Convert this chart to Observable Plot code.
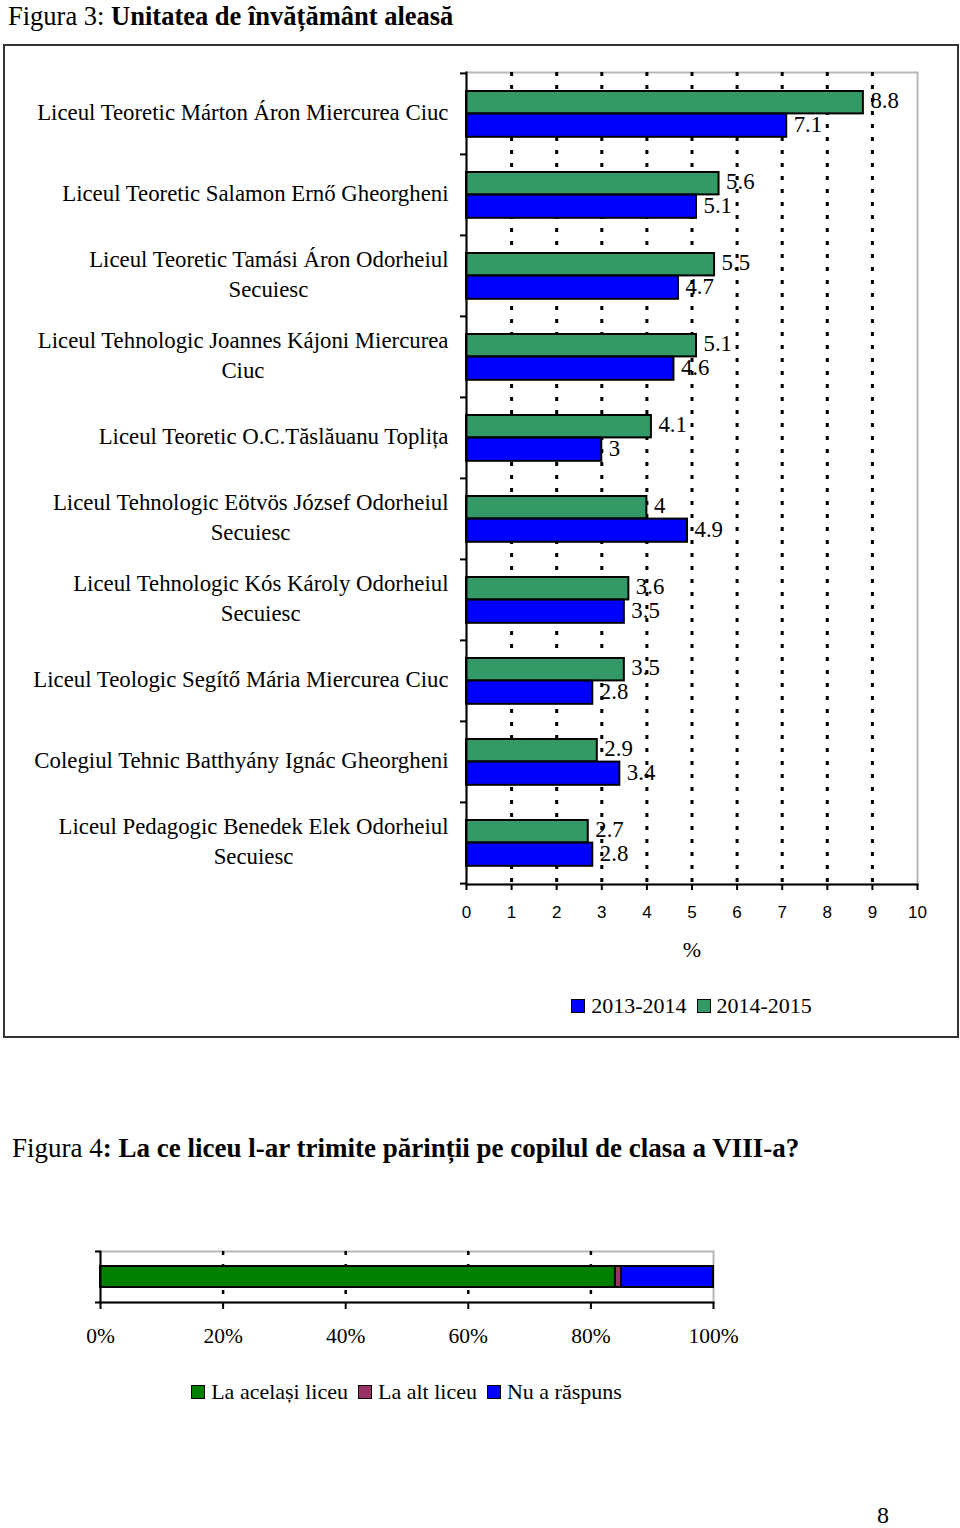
<!DOCTYPE html>
<html>
<head>
<meta charset="utf-8">
<script src="https://cdn.jsdelivr.net/npm/d3@7"></script>
<script src="https://cdn.jsdelivr.net/npm/@observablehq/plot@0.6"></script>
<style>
  body { margin: 0; background: #fff; }
  #page { position: relative; width: 960px; height: 1528px; background: #fff; font-family: 'Liberation Serif', 'Times New Roman', serif; color: #000; overflow: hidden; }
  .abs { position: absolute; }
  .legend { display: flex; justify-content: center; align-items: center; height: 26px; font-size: 22px; white-space: nowrap; }
  .legend .item { display: flex; align-items: center; margin: 0 5px; }
  .legend .sw { width: 14px; height: 14px; box-sizing: border-box; border: 1.5px solid #000; margin-right: 6px; }
</style>
</head>
<body>
<div id="page">
  <div class="abs" style="left:8px; top:1px; font-size:26.5px; line-height:30px; white-space:nowrap;">Figura 3: <b>Unitatea de învățământ aleasă</b></div>
  <div class="abs" style="left:3px; top:44px; width:956px; height:994px; box-sizing:border-box; border:2px solid #333;"></div>
  <div id="fig3" class="abs" style="left:0; top:44px;"></div>
  <div id="legend3" class="abs legend" style="left:466px; width:451px; top:993px;"></div>
  <div class="abs" style="left:12px; top:1132px; font-size:27px; line-height:32px; white-space:nowrap;">Figura 4<b>: La ce liceu l-ar trimite părinții pe copilul de clasa a VIII-a?</b></div>
  <div id="fig4" class="abs" style="left:0; top:1200px;"></div>
  <div id="legend4" class="abs legend" style="left:100px; width:613px; top:1379px;"></div>
  <div class="abs" style="left:877px; top:1500px; font-size:24px; line-height:30px;">8</div>
</div>
<script>
// ---------- Figure 3 data ----------
const schools = [
  "Liceul Teoretic Márton Áron Miercurea Ciuc",
  "Liceul Teoretic Salamon Ernő Gheorgheni",
  "Liceul Teoretic Tamási Áron Odorheiul Secuiesc",
  "Liceul Tehnologic Joannes Kájoni Miercurea Ciuc",
  "Liceul Teoretic O.C.Tăslăuanu Toplița",
  "Liceul Tehnologic Eötvös József Odorheiul Secuiesc",
  "Liceul Tehnologic Kós Károly Odorheiul Secuiesc",
  "Liceul Teologic Segítő Mária Miercurea Ciuc",
  "Colegiul Tehnic Batthyány Ignác Gheorgheni",
  "Liceul Pedagogic Benedek Elek Odorheiul Secuiesc"
];
const values2013_2014 = [7.1, 5.1, 4.7, 4.6, 3, 4.9, 3.5, 2.8, 3.4, 2.8];
const values2014_2015 = [8.8, 5.6, 5.5, 5.1, 4.1, 4, 3.6, 3.5, 2.9, 2.7];
const seriesNames = ["2013-2014", "2014-2015"];
const seriesColors = ["#0000ff", "#339966"];
const xTicks = [0, 1, 2, 3, 4, 5, 6, 7, 8, 9, 10];
const xUnit = "%";

// ---------- Figure 4 data ----------
const answers = ["La același liceu", "La alt liceu", "Nu a răspuns"];
const answerValues = [84, 1, 15];
const answerColors = ["#008000", "#993366", "#0000ff"];
const pctTicks = [0, 20, 40, 60, 80, 100];

// ---------- helpers ----------
const SERIF = "'Liberation Serif', 'Times New Roman', serif";
const SANS = "'Liberation Sans', Arial, sans-serif";
const LABEL_SIZE = 22.8;
const canvas = document.createElement("canvas");
const ctx = canvas.getContext("2d");
ctx.font = LABEL_SIZE + "px 'Liberation Serif'";
const maxLabel = 430;
function wrap(label) {
  const words = label.split(" ");
  const lines = [];
  let cur = "";
  for (const w of words) {
    const t = cur ? cur + " " + w : w;
    if (cur && ctx.measureText(t).width > maxLabel) { lines.push(cur); cur = w; }
    else cur = t;
  }
  if (cur) lines.push(cur);
  return lines.join("\n");
}

// ---------- Figure 3 ----------
const rows3 = schools.flatMap((s, i) => [
  {school: s, series: seriesNames[0], value: values2013_2014[i]},
  {school: s, series: seriesNames[1], value: values2014_2015[i]}
]);
const W1 = 960, H1 = 931, mT1 = 28, mB1 = 91, mL1 = 466, mR1 = 43;
const bw1 = (H1 - mT1 - mB1) / schools.length;
const older = rows3.filter(d => d.series === seriesNames[0]);
const newer = rows3.filter(d => d.series === seriesNames[1]);

const fig3 = Plot.plot({
  width: W1, height: H1,
  marginTop: mT1, marginBottom: mB1, marginLeft: mL1, marginRight: mR1,
  style: {fontFamily: SERIF, fontSize: "22px", color: "#000", background: "transparent", overflow: "visible"},
  x: {domain: [0, 10]},
  y: {domain: schools, padding: 0},
  color: {domain: seriesNames, range: seriesColors},
  marks: [
    Plot.frame({stroke: "#b8b8b8", strokeWidth: 2}),
    Plot.gridX(xTicks.filter(t => t > 0 && t < 10), {stroke: "#000", strokeOpacity: 1, strokeWidth: 3, strokeDasharray: "4,9"}),
    Plot.barX(newer, {x: "value", y: "school", fill: "series", stroke: "#000", strokeWidth: 2, insetTop: 18, insetBottom: bw1 - 40.6}),
    Plot.barX(older, {x: "value", y: "school", fill: "series", stroke: "#000", strokeWidth: 2, insetTop: 40.6, insetBottom: bw1 - 64}),
    Plot.text(newer, {x: "value", y: "school", text: d => String(d.value), dx: 7, dy: -13, textAnchor: "start", fontSize: LABEL_SIZE}),
    Plot.text(older, {x: "value", y: "school", text: d => String(d.value), dx: 7, dy: 10.5, textAnchor: "start", fontSize: LABEL_SIZE}),
    Plot.frame({anchor: "left", stroke: "#000", strokeWidth: 2}),
    Plot.frame({anchor: "bottom", stroke: "#000", strokeWidth: 2}),
    Plot.axisX({ticks: xTicks, tickSize: 6, tickPadding: 15, strokeWidth: 2, fontSize: 17, fontFamily: SANS, label: null}),
    Plot.axisY({tickSize: 0, tickPadding: 18, dy: -3.5, tickFormat: wrap, fontSize: LABEL_SIZE, lineHeight: 1.3, label: null}),
    Plot.axisY({tickSize: 6, strokeWidth: 2, dy: -bw1 / 2, tickFormat: () => "", label: null}),
    Plot.axisY(schools.slice(-1), {tickSize: 6, strokeWidth: 2, dy: bw1 / 2, tickFormat: () => "", label: null}),
    Plot.text([xUnit], {frameAnchor: "bottom", dy: 72, fontSize: 22})
  ]
});
document.getElementById("fig3").appendChild(fig3);

// center wrapped label lines relative to each other
d3.select(fig3).selectAll('g[aria-label="y-axis tick label"] text').each(function () {
  const tspans = this.querySelectorAll("tspan");
  if (tspans.length < 2) return;
  const widths = Array.from(tspans, t => ctx.measureText(t.textContent).width);
  const maxW = Math.max(...widths);
  tspans.forEach((t, i) => t.setAttribute("x", -(maxW - widths[i]) / 2));
});

// legend 3
const leg3 = d3.select("#legend3");
seriesNames.forEach((name, i) => {
  const it = leg3.append("div").attr("class", "item");
  it.append("div").attr("class", "sw").style("background", seriesColors[i]);
  it.append("span").text(name);
});

// ---------- Figure 4 ----------
const rows4 = answers.map((a, i) => ({group: "total", answer: a, value: answerValues[i]}));
const W2 = 960, H2 = 170, mT2 = 51, mB2 = 68, mL2 = 100, mR2 = 247;
const bw2 = H2 - mT2 - mB2;
const fig4 = Plot.plot({
  width: W2, height: H2,
  marginTop: mT2, marginBottom: mB2, marginLeft: mL2, marginRight: mR2,
  style: {fontFamily: SERIF, fontSize: "21.5px", color: "#000", background: "transparent", overflow: "visible"},
  x: {domain: [0, 100]},
  y: {domain: ["total"], padding: 0},
  color: {domain: answers, range: answerColors},
  marks: [
    Plot.frame({stroke: "#b8b8b8", strokeWidth: 2}),
    Plot.gridX(pctTicks.filter(t => t > 0 && t < 100), {stroke: "#000", strokeOpacity: 1, strokeWidth: 2.5, strokeDasharray: "4,9"}),
    Plot.barX(rows4, Plot.stackX({x: "value", y: "group", fill: "answer", stroke: "#000", strokeWidth: 2, insetTop: 15, insetBottom: 15})),
    Plot.frame({anchor: "left", stroke: "#000", strokeWidth: 2}),
    Plot.frame({anchor: "bottom", stroke: "#000", strokeWidth: 2}),
    Plot.axisX({ticks: pctTicks, tickSize: 7, tickPadding: 18, strokeWidth: 2, fontSize: 21.5, tickFormat: d => d + "%", label: null}),
    Plot.axisY({tickSize: 5, strokeWidth: 2, dy: -bw2 / 2, tickFormat: () => "", label: null}),
    Plot.axisY({tickSize: 5, strokeWidth: 2, dy: bw2 / 2, tickFormat: () => "", label: null})
  ]
});
document.getElementById("fig4").appendChild(fig4);

const leg4 = d3.select("#legend4");
answers.forEach((name, i) => {
  const it = leg4.append("div").attr("class", "item");
  it.append("div").attr("class", "sw").style("background", answerColors[i]);
  it.append("span").text(name);
});
</script>
</body>
</html>
